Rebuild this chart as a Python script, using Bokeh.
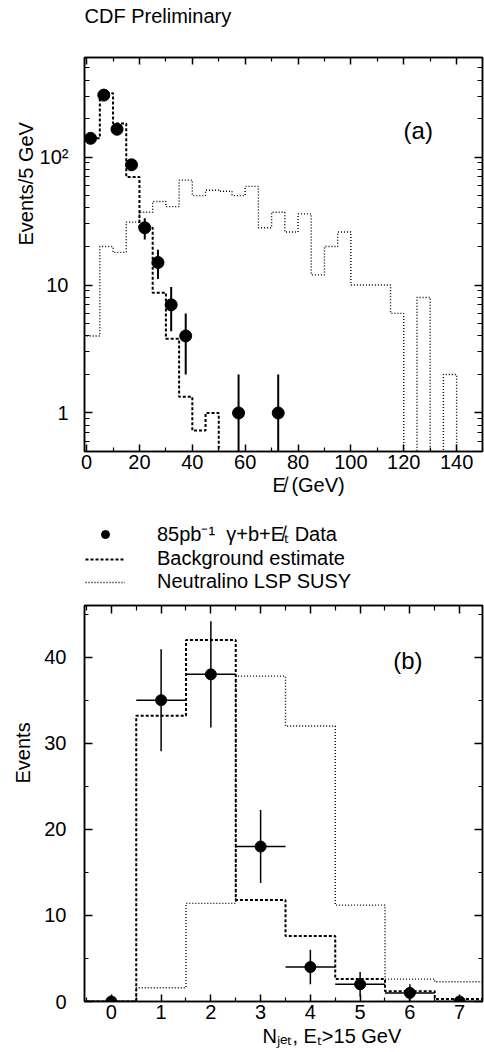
import numpy as np
from bokeh.plotting import figure
from bokeh.models import (Range1d, FixedTicker, LinearAxis, LogAxis, Legend, LegendItem,
                          CustomJSTickFormatter, Label, Title)
from bokeh.layouts import column
from bokeh.embed import file_html
from bokeh.resources import INLINE

FONT = "Liberation Sans"

# ---------------- panel (a): missing E_T, 5 GeV bins ----------------
met_edges = [0, 5, 10, 15, 20, 25, 30, 35, 40, 45, 50, 55, 60, 65, 70, 75, 80, 85, 90, 95,
             100, 105, 110, 115, 120, 125, 130, 135, 140, 145, 150]
met_bkg = [140, 316, 183, 70, 28, 8.7, 3.8, 1.34, 0.73, 1.0, 0, 0, 0, 0, 0, 0, 0, 0, 0, 0,
           0, 0, 0, 0, 0, 0, 0, 0, 0, 0]
met_susy = [4, 20, 18, 31, 37, 45, 41, 66, 50, 55, 54, 50, 59, 28, 37, 26, 36, 12, 20, 26,
            10, 10, 10, 6, 0, 8, 0, 2, 0, 0]
met_data_x = [1.5, 6.5, 11.5, 17, 22, 27, 32, 37.5, 57.5, 72.5]
met_data_y = [140, 305, 165, 87, 28, 15, 7, 4, 1, 1]
met_major_ticks = [0, 20, 40, 60, 80, 100, 120, 140]
met_minor_ticks = [10, 30, 50, 70, 90, 110, 130]
log_major_ticks = [1, 10, 100]
log_minor_ticks = [0.5, 0.6, 0.7, 0.8, 0.9, 2, 3, 4, 5, 6, 7, 8, 9,
                   20, 30, 40, 50, 60, 70, 80, 90, 200, 300, 400, 500]
log_tick_labels = {1: "1", 10: "10", 100: "10²"}

# ---------------- panel (b): jet multiplicity ----------------
njet_edges = [-0.5, 0.5, 1.5, 2.5, 3.5, 4.5, 5.5, 6.5, 7.5]
njet_bkg = [0, 33.2, 42.0, 11.8, 7.6, 2.6, 1.2, 0.3]
njet_susy = [0, 1.6, 11.4, 37.8, 32.0, 11.2, 2.6, 2.3]
njet_data_x = [0, 1, 2, 3, 4, 5, 6, 7]
njet_data_y = [0, 35, 38, 18, 4, 2, 1, 0]
njet_major_ticks = [0, 1, 2, 3, 4, 5, 6, 7]
njet_minor_ticks = [-0.5, 0.5, 1.5, 2.5, 3.5, 4.5, 5.5, 6.5, 7.5]
ev_major_ticks = [0, 10, 20, 30, 40]
ev_minor_ticks = [5, 15, 25, 35, 45]

legend_labels = ["85pb⁻¹  γ+b+E̸ₜ Data", "Background estimate", "Neutralino LSP SUSY"]

DASH_BKG = "3 2"
DOT_SUSY = "1 2"


def empty_fmt():
    return CustomJSTickFormatter(code="return ''")


def style_axis(ax, major_in=8, minor_in=4, standoff=3, labels=True):
    ax.axis_line_color = "black"
    ax.axis_line_width = 1.5
    ax.major_tick_in = major_in
    ax.major_tick_out = 0
    ax.minor_tick_in = minor_in
    ax.minor_tick_out = 0
    ax.major_tick_line_width = 1.5
    ax.minor_tick_line_width = 1.2
    ax.major_tick_line_color = "black"
    ax.minor_tick_line_color = "black"
    ax.major_label_text_font = FONT
    ax.major_label_text_font_size = "20px"
    ax.major_label_text_color = "black"
    ax.major_label_standoff = standoff
    if not labels:
        ax.formatter = empty_fmt()
        ax.major_label_standoff = 0


def base_fig(height, x_range, y_range, y_type, top, bottom):
    p = figure(width=484, height=height, x_range=x_range, y_range=y_range,
               y_axis_type=y_type, output_backend="svg", toolbar_location=None,
               min_border_left=84, min_border_right=2, min_border_top=top,
               min_border_bottom=bottom)
    p.xgrid.grid_line_color = None
    p.ygrid.grid_line_color = None
    p.outline_line_color = "black"
    p.outline_line_width = 1.5
    p.background_fill_color = "white"
    p.border_fill_color = "white"
    return p


def strip_fig(height):
    s = figure(width=484, height=height, x_range=Range1d(0, 1), y_range=Range1d(0, 1),
               output_backend="svg", toolbar_location=None, min_border=0,
               x_axis_location=None, y_axis_location=None)
    s.outline_line_color = None
    s.xgrid.grid_line_color = None
    s.ygrid.grid_line_color = None
    return s


def side_title(p, text, side, offset=0, standoff=0):
    t = Title(text=text, align="left", offset=offset, standoff=standoff,
              text_font=FONT, text_font_size="20px", text_font_style="normal",
              text_color="black")
    p.add_layout(t, side)


def text_label(p, x, y, text, size, align):
    p.add_layout(Label(x=x, y=y, text=text, text_font=FONT, text_font_size=size,
                       text_align=align, text_baseline="middle", text_color="black"))


# ======================= header strip =======================
pt = strip_fig(30)
text_label(pt, 0, 0.5, "CDF Preliminary", "20px", "left")

# ======================= panel (a) =======================
FLOOR = 1e-3
pa = base_fig(485, Range1d(-0.8, 149.8), Range1d(0.5, 600), "log", 27, 64)

bkg_a = np.array(met_bkg, dtype=float)
susy_a = np.array(met_susy, dtype=float)
bkg_a = np.where(bkg_a > 0, bkg_a, FLOOR)
susy_a = np.where(susy_a > 0, susy_a, FLOOR)
pa.step(met_edges, np.append(susy_a, susy_a[-1]), mode="after", line_color="black",
        line_width=1.4, line_dash=DOT_SUSY)
pa.step(met_edges, np.append(bkg_a, bkg_a[-1]), mode="after", line_color="black",
        line_width=2, line_dash=DASH_BKG)

ya = np.array(met_data_y, dtype=float)
lo_a = np.maximum(ya - np.sqrt(ya), FLOOR)
hi_a = ya + np.sqrt(ya)
pa.segment(x0=met_data_x, y0=lo_a, x1=met_data_x, y1=hi_a, line_color="black", line_width=2)
pa.scatter(met_data_x, met_data_y, size=12, marker="circle", color="black")

xa = pa.xaxis[0]
xa.ticker = FixedTicker(ticks=met_major_ticks, minor_ticks=met_minor_ticks)
style_axis(xa, major_in=7, minor_in=4, standoff=3)
ya_ax = pa.yaxis[0]
ya_ax.ticker = FixedTicker(ticks=log_major_ticks, minor_ticks=log_minor_ticks)
ya_ax.major_label_overrides = log_tick_labels
style_axis(ya_ax, major_in=8, minor_in=5, standoff=16)

top_a = LinearAxis(ticker=FixedTicker(ticks=met_major_ticks, minor_ticks=met_minor_ticks))
style_axis(top_a, major_in=7, minor_in=4, labels=False)
pa.add_layout(top_a, "above")
right_a = LogAxis(ticker=FixedTicker(ticks=log_major_ticks, minor_ticks=log_minor_ticks))
style_axis(right_a, major_in=8, minor_in=5, labels=False)
pa.add_layout(right_a, "right")

text_label(pa, 125.5, 162, "(a)", "24px", "center")
side_title(pa, "E̸ (GeV)", "below", offset=188, standoff=0)
side_title(pa, "Events/5 GeV", "left", offset=206, standoff=0)

# ======================= legend strip =======================
pl = strip_fig(80)
ld = pl.scatter([np.nan], [np.nan], size=11, marker="circle", color="black")
lb = pl.line([np.nan, np.nan], [np.nan, np.nan], line_color="black", line_width=2,
             line_dash=DASH_BKG)
ls = pl.line([np.nan, np.nan], [np.nan, np.nan], line_color="black", line_width=1.4,
             line_dash=DOT_SUSY)
legend = Legend(items=[LegendItem(label=legend_labels[0], renderers=[ld]),
                       LegendItem(label=legend_labels[1], renderers=[lb]),
                       LegendItem(label=legend_labels[2], renderers=[ls])],
                location=(1, 2), orientation="vertical")
legend.label_text_font = FONT
legend.label_text_font_size = "20px"
legend.label_text_color = "black"
legend.label_height = 20
legend.glyph_height = 20
legend.glyph_width = 40
legend.label_standoff = 32
legend.spacing = 0
legend.padding = 0
legend.margin = 0
legend.border_line_color = None
legend.background_fill_alpha = 0
pl.add_layout(legend, "center")

# ======================= panel (b) =======================
pb = base_fig(457, Range1d(-0.54, 7.46), Range1d(0, 46), "linear", 10, 51)

pb.step(njet_edges, njet_susy + [njet_susy[-1]], mode="after", line_color="black",
        line_width=1.4, line_dash=DOT_SUSY)
pb.step(njet_edges, njet_bkg + [njet_bkg[-1]], mode="after", line_color="black",
        line_width=2, line_dash=DASH_BKG)

yb = np.array(njet_data_y, dtype=float)
xb = np.array(njet_data_x, dtype=float)
eb = np.sqrt(yb)
pb.segment(x0=xb, y0=yb - eb, x1=xb, y1=yb + eb, line_color="black", line_width=1.5)
pb.segment(x0=xb - 0.5, y0=yb, x1=xb + 0.5, y1=yb, line_color="black", line_width=1.5)
pb.scatter(njet_data_x, njet_data_y, size=11, marker="circle", color="black")

xb_ax = pb.xaxis[0]
xb_ax.ticker = FixedTicker(ticks=njet_major_ticks, minor_ticks=njet_minor_ticks)
style_axis(xb_ax, major_in=7, minor_in=4, standoff=3)
yb_ax = pb.yaxis[0]
yb_ax.ticker = FixedTicker(ticks=ev_major_ticks, minor_ticks=ev_minor_ticks)
style_axis(yb_ax, major_in=8, minor_in=4, standoff=18)

top_b = LinearAxis(ticker=FixedTicker(ticks=njet_major_ticks, minor_ticks=njet_minor_ticks))
style_axis(top_b, major_in=8, minor_in=5, labels=False)
pb.add_layout(top_b, "above")
right_b = LinearAxis(ticker=FixedTicker(ticks=ev_major_ticks, minor_ticks=ev_minor_ticks))
style_axis(right_b, major_in=8, minor_in=4, labels=False)
pb.add_layout(right_b, "right")

text_label(pb, 5.96, 39.6, "(b)", "24px", "center")
side_title(pb, "Nⱼₑₜ, Eₜ>15 GeV", "below", offset=178, standoff=2)
side_title(pb, "Events", "left", offset=218, standoff=16)

layout = column(pt, pa, pl, pb, spacing=0)
open("out.html", "w").write(file_html(layout, INLINE))
